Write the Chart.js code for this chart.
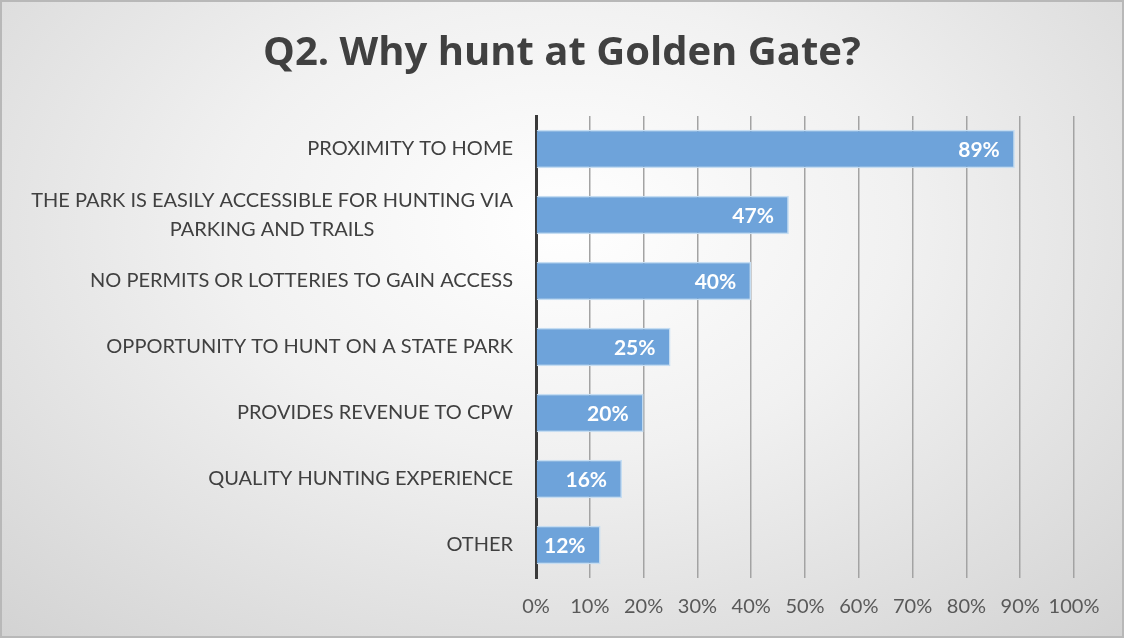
<!DOCTYPE html>
<html>
<head>
<meta charset="utf-8">
<script src="https://cdn.jsdelivr.net/npm/chart.js@4.4.0/dist/chart.umd.min.js"></script>
<style>
  html, body { margin: 0; padding: 0; }
  #wrap {
    width: 1120px; height: 634px; position: relative;
    border: 2px solid #b8b8b8;
    background: radial-gradient(ellipse 75% 90% at 50% 35%, #ffffff 0%, #f1f1f1 40%, #d2d2d2 100%);
  }
</style>
</head>
<body>
<div id="wrap"><canvas id="huntChart"></canvas></div>
<script>
const categories = [
  'PROXIMITY TO HOME',
  ['THE PARK IS EASILY ACCESSIBLE FOR HUNTING VIA', 'PARKING AND TRAILS'],
  'NO PERMITS OR LOTTERIES TO GAIN ACCESS',
  'OPPORTUNITY TO HUNT ON A STATE PARK',
  'PROVIDES REVENUE TO CPW',
  'QUALITY HUNTING EXPERIENCE',
  'OTHER'
];
const percents = [89, 47, 40, 25, 20, 16, 12];
const tickStep = 10;
const tickMax = 100;

const labelFont = '20px Lato';

// draws the category labels (centered multi-line, right aligned block) and the % labels in the bars
const labelPlugin = {
  id: 'labelPlugin',
  afterDatasetsDraw(chart) {
    const ctx = chart.ctx;
    const yScale = chart.scales.y;
    const right = chart.chartArea.left - 23;
    ctx.save();
    ctx.font = labelFont;
    ctx.fillStyle = '#404040';
    ctx.textBaseline = 'middle';
    categories.forEach((lab, i) => {
      const y = yScale.getPixelForTick(i);
      const lines = Array.isArray(lab) ? lab : [lab];
      const w = Math.max(...lines.map(l => ctx.measureText(l).width));
      const cx = right - w / 2;
      const lh = 29;
      ctx.textAlign = 'center';
      lines.forEach((l, j) => {
        ctx.fillText(l, cx, y + (j - (lines.length - 1) / 2) * lh);
      });
    });
    // value labels
    const meta = chart.getDatasetMeta(0);
    ctx.font = 'bold 21px Lato';
    ctx.fillStyle = '#ffffff';
    ctx.textAlign = 'right';
    meta.data.forEach((bar, i) => {
      ctx.fillText(percents[i] + '%', bar.x - 15, bar.y + 1);
    });
    ctx.restore();
  }
};

const ctx = document.getElementById('huntChart').getContext('2d');
new Chart(ctx, {
  type: 'bar',
  data: {
    labels: categories,
    datasets: [{
      data: percents,
      backgroundColor: '#6ea3da',
      borderColor: '#c5ddf2',
      borderWidth: 1.5,
      categoryPercentage: 1,
      barPercentage: 0.58
    }]
  },
  options: {
    indexAxis: 'y',
    responsive: true,
    maintainAspectRatio: false,
    animation: false,
    layout: { padding: { left: 48, right: 48, top: 10, bottom: 0 } },
    plugins: {
      legend: { display: false },
      tooltip: { enabled: false },
      title: {
        display: true,
        text: 'Q2. Why hunt at Golden Gate?',
        color: '#404040',
        font: { family: 'Open Sans', size: 40, weight: 'bold' },
        padding: { top: 18, bottom: 38 }
      }
    },
    scales: {
      x: {
        min: 0,
        max: tickMax,
        ticks: {
          stepSize: tickStep,
          callback: v => v + '%',
          color: '#595959',
          font: { family: 'Lato', size: 20 },
          maxRotation: 0,
          autoSkip: false,
          padding: 17
        },
        grid: { color: '#a3a3a3', lineWidth: 1.5, drawTicks: false },
        border: { display: false }
      },
      y: {
        afterFit(scale) { scale.width = 486; },
        ticks: { display: false },
        grid: { display: false },
        border: { display: true, color: '#3a3a3a', width: 3 }
      }
    }
  },
  plugins: [labelPlugin]
});
</script>
</body>
</html>
